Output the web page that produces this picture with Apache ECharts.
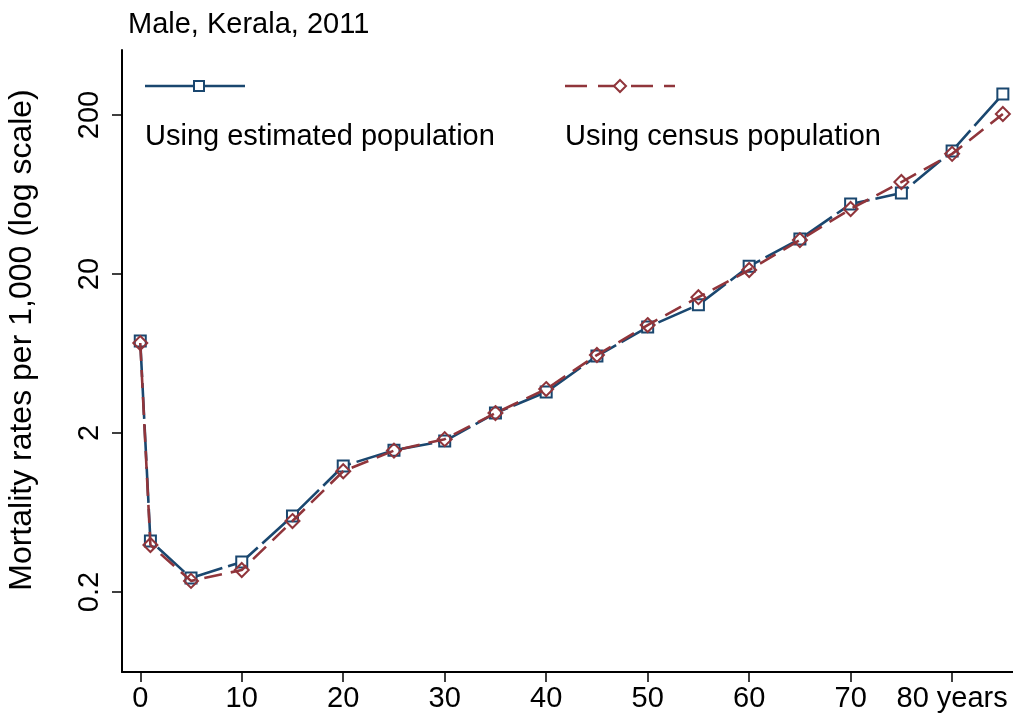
<!DOCTYPE html>
<html>
<head>
<meta charset="utf-8">
<script src="https://cdn.jsdelivr.net/npm/echarts@6/dist/echarts.min.js"></script>
<style>
  html, body { margin: 0; padding: 0; background: #fff; }
  #chart { width: 1013px; height: 719px; }
</style>
</head>
<body>
<div id="chart"></div>
<script>
// Age groups (years)
const ages = [0, 1, 5, 10, 15, 20, 25, 30, 35, 40, 45, 50, 55, 60, 65, 70, 75, 80, 85];
// Mortality rates per 1,000, males, Kerala 2011
const estimatedPop = [7.58, 0.419, 0.245, 0.309, 0.601, 1.24, 1.56, 1.78, 2.67, 3.62, 6.10, 9.28, 12.8, 22.4, 33.2, 55.1, 64.6, 119, 271];
const censusPop    = [7.36, 0.395, 0.235, 0.275, 0.559, 1.15, 1.55, 1.83, 2.67, 3.78, 6.19, 9.55, 14.3, 21.2, 32.7, 51.3, 75.8, 114, 203];
// Axis ticks
const xTicks = [0, 10, 20, 30, 40, 50, 60, 70, 80];
const yTicks = [0.2, 2, 20, 200];
const seriesNames = ['Using estimated population', 'Using census population'];

const BLUE = '#1a476f';
const RED = '#90353b';
const FONT = 'Liberation Sans, Arial, sans-serif';
const FS = 29;

const chart = echarts.init(document.getElementById('chart'), null, { renderer: 'canvas' });

function pairs(ys) { return ages.map((a, i) => [a, ys[i]]); }

const option = {
  backgroundColor: '#fff',
  animation: false,
  textStyle: { fontFamily: FONT },
  title: {
    text: 'Male, Kerala, 2011',
    left: 123, top: 5,
    textStyle: { fontFamily: FONT, fontSize: FS, fontWeight: 'normal', color: '#000' }
  },
  grid: { left: 122, top: 50, right: 0, bottom: 47, outerBoundsMode: 'none', containLabel: false },
  xAxis: {
    type: 'value',
    min: -1.8, max: 86,
    splitLine: { show: false },
    axisLine: { lineStyle: { color: '#000', width: 2 } },
    axisTick: { customValues: xTicks, length: 10, lineStyle: { color: '#000', width: 1.5 } },
    axisLabel: {
      customValues: xTicks,
      color: '#000', fontSize: FS, fontFamily: FONT, margin: 12,
      formatter: v => (v === 80 ? '80 years' : String(v))
    }
  },
  yAxis: {
    type: 'log',
    logBase: 10,
    min: 0.0628, max: 513,
    splitLine: { show: false },
    axisLine: { show: true, onZero: false, lineStyle: { color: '#000', width: 2 } },
    axisTick: { show: true, customValues: yTicks, length: 10, lineStyle: { color: '#000', width: 1.5 } },
    axisLabel: {
      customValues: yTicks,
      rotate: 90, color: '#000', fontSize: FS, fontFamily: FONT, margin: 18,
      formatter: v => String(v)
    },
    name: 'Mortality rates per 1,000 (log scale)',
    nameLocation: 'middle',
    nameGap: 84,
    nameRotate: 90,
    nameTextStyle: { color: '#000', fontSize: 32, fontFamily: FONT, padding: [0, 0, 0, 42] }
  },
  series: [
    {
      name: seriesNames[0],
      type: 'line',
      data: pairs(estimatedPop),
      symbol: 'rect', symbolSize: 11,
      itemStyle: { color: '#fff', borderColor: BLUE, borderWidth: 2 },
      lineStyle: { color: BLUE, width: 2.6, type: [36, 6] },
      z: 3
    },
    {
      name: seriesNames[1],
      type: 'line',
      data: pairs(censusPop),
      symbol: 'diamond', symbolSize: 14,
      itemStyle: { color: 'rgba(255,255,255,0)', borderColor: RED, borderWidth: 2 },
      lineStyle: { color: RED, width: 2.6, type: [18, 9] },
      z: 4
    }
  ],
  graphic: [
    // key for the estimated-population series
    { type: 'line', shape: { x1: 145, y1: 86, x2: 245, y2: 86 }, style: { stroke: BLUE, lineWidth: 2.6 } },
    { type: 'rect', shape: { x: 194, y: 81, width: 10, height: 10 }, style: { fill: '#fff', stroke: BLUE, lineWidth: 2 } },
    { type: 'text', left: 145, top: 122, style: { text: seriesNames[0], font: FS + 'px ' + FONT, fill: '#000' } },
    // key for the census-population series
    { type: 'line', shape: { x1: 565, y1: 86, x2: 675, y2: 86 }, style: { stroke: RED, lineWidth: 2.6, lineDash: [22, 11] } },
    { type: 'polygon', shape: { points: [[620, 80], [626, 86], [620, 92], [614, 86]] }, style: { fill: '#fff', stroke: RED, lineWidth: 2 } },
    { type: 'text', left: 565, top: 122, style: { text: seriesNames[1], font: FS + 'px ' + FONT, fill: '#000' } }
  ]
};

chart.setOption(option);
</script>
</body>
</html>
